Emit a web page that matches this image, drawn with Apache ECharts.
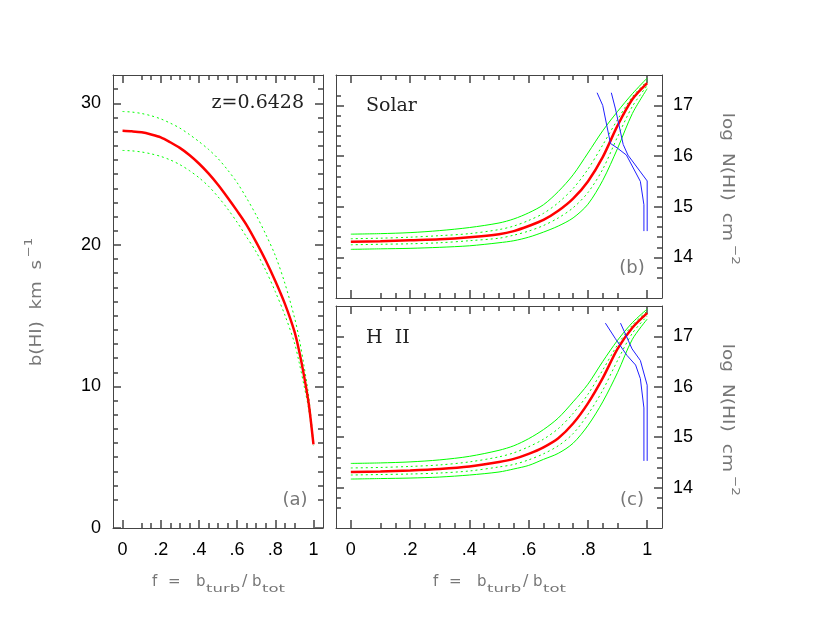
<!DOCTYPE html>
<html><head><meta charset="utf-8">
<script src="https://cdn.jsdelivr.net/npm/echarts@6/dist/echarts.min.js"></script>
<style>html,body{margin:0;padding:0;background:#fff}#c{width:830px;height:642px}</style>
</head><body><div id="c"></div>
<script>
// ---------------- data ----------------
// panel (a): b(HI) vs f
const fA      = [0,0.05,0.1,0.15,0.2,0.25,0.3,0.35,0.4,0.45,0.5,0.55,0.6,0.65,0.7,0.75,0.8,0.85,0.9,0.925,0.95,0.975,1];
const bRedA   = [28.06,28.02,27.95,27.8,27.6,27.25,26.85,26.35,25.75,25.05,24.25,23.35,22.4,21.4,20.2,18.9,17.45,15.85,13.9,12.5,10.8,8.8,5.9];
const bUpA    = [29.42,29.38,29.28,29.12,28.9,28.6,28.25,27.8,27.3,26.75,26.1,25.3,24.4,23.3,22.1,20.75,19.25,17.3,14.9,13.4,11.5,9.3,6.0];
const bLoA    = [26.67,26.64,26.56,26.43,26.25,26.0,25.67,25.25,24.75,24.15,23.4,22.55,21.6,20.55,19.5,18.2,16.7,15.05,13.1,11.7,10.1,8.4,5.8];

// panels (b),(c): log N(HI) vs f
const fBC      = [0,0.1,0.2,0.3,0.4,0.5,0.55,0.6,0.65,0.7,0.75,0.8,0.85,0.9,0.95,1];
const nRedB    = [14.31,14.32,14.34,14.36,14.40,14.46,14.52,14.62,14.74,14.92,15.16,15.50,15.98,16.60,17.12,17.44];
const nUpB     = [14.46,14.47,14.49,14.53,14.59,14.68,14.76,14.88,15.04,15.30,15.63,16.06,16.50,16.88,17.23,17.54];
const nLoB     = [14.16,14.17,14.18,14.20,14.23,14.29,14.33,14.40,14.50,14.62,14.78,15.05,15.52,16.15,16.84,17.33];
const nDotUpB  = [14.37,14.38,14.40,14.43,14.47,14.55,14.62,14.73,14.87,15.08,15.36,15.74,16.22,16.72,17.17,17.48];
const nDotLoB  = [14.25,14.26,14.27,14.29,14.33,14.38,14.44,14.52,14.63,14.78,14.98,15.28,15.74,16.38,16.98,17.39];

const nRedC    = [14.31,14.32,14.34,14.37,14.42,14.51,14.57,14.67,14.80,14.98,15.27,15.67,16.17,16.75,17.17,17.46];
const nUpC     = [14.48,14.49,14.51,14.55,14.62,14.74,14.83,14.97,15.15,15.38,15.70,16.05,16.50,16.92,17.27,17.54];
const nLoC     = [14.17,14.18,14.19,14.21,14.25,14.31,14.37,14.44,14.56,14.68,14.88,15.23,15.70,16.28,16.94,17.34];
const nDotUpC  = [14.39,14.40,14.42,14.45,14.51,14.61,14.69,14.81,14.96,15.17,15.47,15.85,16.33,16.83,17.22,17.50];
const nDotLoC  = [14.25,14.26,14.27,14.29,14.33,14.41,14.46,14.55,14.67,14.83,15.07,15.45,15.93,16.52,17.06,17.40];

// blue constraint lines
const blue1fB = [0.831,0.850,0.876,0.899,0.930,0.977,0.989,0.989];
const blue1nB = [17.25,17.00,16.25,16.16,16.02,15.50,15.04,14.52];
const blue2fB = [0.879,0.893,0.919,0.935,1.0,1.0];
const blue2nB = [17.25,16.93,16.23,16.02,15.51,14.52];
const blue1fC = [0.859,0.893,0.932,0.961,0.977,0.989,0.989];
const blue1nC = [17.26,16.95,16.62,16.43,16.16,15.58,14.53];
const blue2fC = [0.910,0.949,0.977,1.0,1.0];
const blue2nC = [17.26,16.75,16.52,16.03,14.53];

// ticks
const fMajor      = [0,0.2,0.4,0.6,0.8,1];
const fTickLabels = ['0','.2','.4','.6','.8','1'];
const fMinor      = [0.05,0.1,0.15,0.25,0.3,0.35,0.45,0.5,0.55,0.65,0.7,0.75,0.85,0.9,0.95];
const bMajor      = [0,10,20,30];
const bMinor      = [1,2,3,4,5,6,7,8,9,11,12,13,14,15,16,17,18,19,21,22,23,24,25,26,27,28,29,31];
const nMajor      = [14,15,16,17];
const nMinor      = [13.4,13.6,13.8,14.2,14.4,14.6,14.8,15.2,15.4,15.6,15.8,16.2,16.4,16.6,16.8,17.2,17.4];

// ---------------- chart ----------------
const FRAME = '#444';
const pair = (xs, ys) => xs.map((x, i) => [x, ys[i]]);
const fmtF = v => { const i = fMajor.findIndex(t => Math.abs(t - v) < 1e-6); return i < 0 ? String(v) : fTickLabels[i]; };

function axes(g, min, max, major, minor, posMain, posOther, showLabel, fmt, margin) {
  const mk = (pos, vals, len, withLine, labels) => {
    const ax = {
      gridIndex:g, type:'value', min:min, max:max, position:pos, splitLine:{show:false},
      axisLine:{show:withLine, onZero:false, lineStyle:{color:FRAME, width:1}},
      axisTick:{show:true, inside:true, length:len, customValues:vals.slice(), lineStyle:{color:FRAME, width:1.5}},
      axisLabel:{show:true, customValues:vals.slice(), margin:margin,
        color: labels ? '#000' : 'rgba(0,0,0,0)', fontSize:18, fontFamily:'Liberation Sans'}
    };
    if (labels) ax.axisLabel.formatter = fmt;
    return ax;
  };
  return [
    mk(posMain, major, 8, true, showLabel),
    mk(posMain, minor, 5, false, false),
    mk(posOther, major, 8, true, false),
    mk(posOther, minor, 5, false, false)
  ];
}

const xAxes = [].concat(
  axes(0, -0.05, 1.05, fMajor, fMinor, 'bottom', 'top', true, fmtF, 13),
  axes(1, -0.05, 1.05, fMajor, fMinor, 'bottom', 'top', false, fmtF, 13),
  axes(2, -0.05, 1.05, fMajor, fMinor, 'bottom', 'top', true, fmtF, 13)
);
const yAxes = [].concat(
  axes(0, 0, 32, bMajor, bMinor, 'left', 'right', true, v => String(v), 12),
  axes(1, 13.2, 17.6, nMajor, nMinor, 'right', 'left', true, v => String(v), 11),
  axes(2, 13.2, 17.6, nMajor, nMinor, 'right', 'left', true, v => String(v), 11)
);

function ser(g, data, color, width, type, smooth) {
  return {type:'line', xAxisIndex:4*g, yAxisIndex:4*g, data:data, showSymbol:false, symbol:'none',
    smooth:smooth ? 0.3 : false,
    lineStyle:{color:color, width:width, type:type, cap:'butt'}, silent:true};
}
const GREEN = '#00ff00', RED = '#ff0000', BLUE = '#2020ff';
const DOT = [2, 3];

const series = [
  ser(0, pair(fA, bUpA), GREEN, 1, DOT, true),
  ser(0, pair(fA, bLoA), GREEN, 1, DOT, true),
  ser(0, pair(fA, bRedA), RED, 2.5, 'solid', true),

  ser(1, pair(fBC, nUpB), GREEN, 1, 'solid', true),
  ser(1, pair(fBC, nLoB), GREEN, 1, 'solid', true),
  ser(1, pair(fBC, nDotUpB), GREEN, 1, DOT, true),
  ser(1, pair(fBC, nDotLoB), GREEN, 1, DOT, true),
  ser(1, pair(fBC, nRedB), RED, 2.5, 'solid', true),
  ser(1, pair(blue1fB, blue1nB), BLUE, 1, 'solid', false),
  ser(1, pair(blue2fB, blue2nB), BLUE, 1, 'solid', false),

  ser(2, pair(fBC, nUpC), GREEN, 1, 'solid', true),
  ser(2, pair(fBC, nLoC), GREEN, 1, 'solid', true),
  ser(2, pair(fBC, nDotUpC), GREEN, 1, DOT, true),
  ser(2, pair(fBC, nDotLoC), GREEN, 1, DOT, true),
  ser(2, pair(fBC, nRedC), RED, 2.5, 'solid', true),
  ser(2, pair(blue1fC, blue1nC), BLUE, 1, 'solid', false),
  ser(2, pair(blue2fC, blue2nC), BLUE, 1, 'solid', false)
];

const TITLE = {fill:'#777', fontFamily:'DejaVu Sans', fontSize:15};
function t(x, y, text, extra, scaleX) {
  return {type:'text', x:x, y:y, scaleX:scaleX || 1, silent:true,
    style:Object.assign({text:text, textAlign:'left', textVerticalAlign:'middle'}, TITLE, extra || {})};
}
function fTitle(x0) {
  return {type:'group', x:x0, y:0, silent:true, children:[
    t(0, 582, 'f'),
    t(16, 582, '='),
    t(44, 582, 'b'),
    t(54, 589, 'turb', {fontSize:11}, 1.5),
    t(90, 582, '/', {fontSize:16}),
    t(100, 582, 'b'),
    t(110, 589, 'tot', {fontSize:11}, 1.5)
  ]};
}
function nTitle(x, y) {
  return {type:'group', x:x, y:y, rotation:-Math.PI/2, scaleX:1.24, silent:true, children:[
    t(0, 0, 'log  N(HI)  cm', {textAlign:'right'}),
    t(3, -8, '\u22122', {fontSize:11})
  ]};
}

const graphic = [
  {type:'group', x:37, y:260, rotation:Math.PI/2, scaleX:1.22, silent:true, children:[
    t(0, 0, 'b(HI)  km  s', {textAlign:'right'}),
    t(2, -8, '\u22121', {fontSize:11})
  ]},
  nTitle(727, 241),
  nTitle(727, 472),
  fTitle(152),
  fTitle(433),
  {type:'text', x:304, y:103, silent:true, style:{text:'z=0.6428', textAlign:'right', textVerticalAlign:'middle', fill:'#222', fontFamily:'DejaVu Serif', fontSize:19}},
  {type:'text', x:366, y:106, silent:true, style:{text:'Solar', textAlign:'left', textVerticalAlign:'middle', fill:'#222', fontFamily:'DejaVu Serif', fontSize:19}},
  {type:'text', x:366, y:338, silent:true, style:{text:'H  II', textAlign:'left', textVerticalAlign:'middle', fill:'#222', fontFamily:'DejaVu Serif', fontSize:19}},
  {type:'text', x:295, y:500, silent:true, style:{text:'(a)', textAlign:'center', textVerticalAlign:'middle', fill:'#777', fontFamily:'DejaVu Sans', fontSize:18}},
  {type:'text', x:632, y:268, silent:true, style:{text:'(b)', textAlign:'center', textVerticalAlign:'middle', fill:'#777', fontFamily:'DejaVu Sans', fontSize:18}},
  {type:'text', x:632, y:500, silent:true, style:{text:'(c)', textAlign:'center', textVerticalAlign:'middle', fill:'#777', fontFamily:'DejaVu Sans', fontSize:18}}
];

const chart = echarts.init(document.getElementById('c'), null, {renderer:'canvas'});
chart.setOption({
  animation:false,
  backgroundColor:'#fff',
  grid:[
    {left:113, top:75, width:210, height:453},
    {left:336, top:75, width:326, height:223},
    {left:336, top:306, width:326, height:222}
  ],
  xAxis:xAxes,
  yAxis:yAxes,
  series:series,
  graphic:graphic
});
</script>
</body></html>
